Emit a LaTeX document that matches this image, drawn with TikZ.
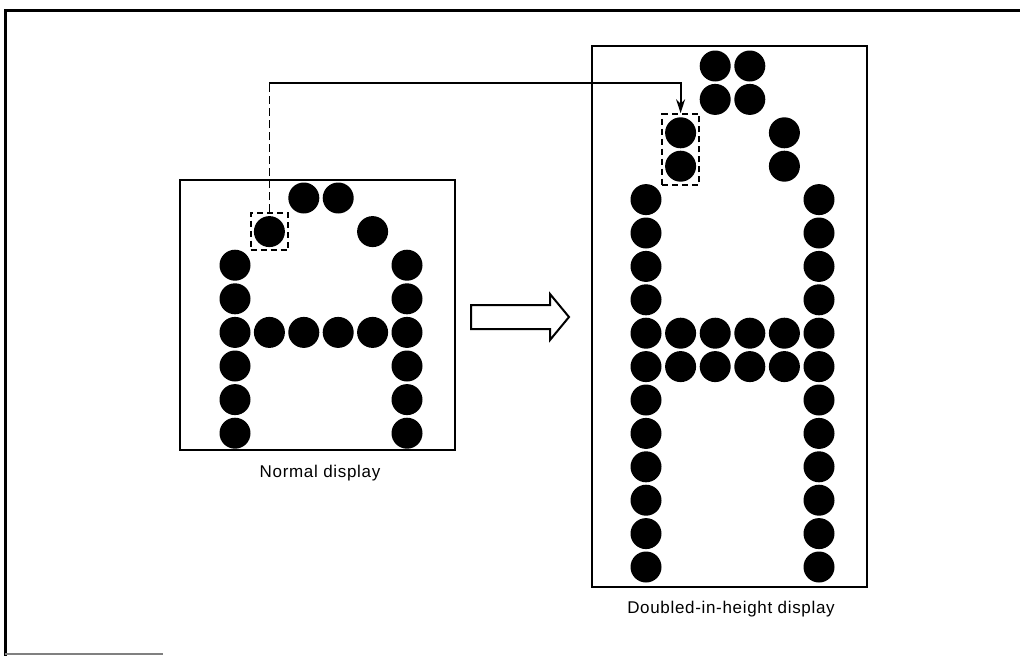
\documentclass[tikz,border=0pt]{standalone}
\usepackage{fontspec}
\setmainfont{Liberation Sans}
\usetikzlibrary{fit,arrows.meta}

% the letter A on the 6 x 8 dot grid (row/column)
\newcommand{\glyphA}{0/2,0/3,1/1,1/4,2/0,2/5,3/0,3/5,4/0,4/1,4/2,4/3,4/4,4/5,5/0,5/5,6/0,6/5,7/0,7/5}

\tikzset{
  dot/.style={circle, fill=black, inner sep=0pt, minimum size=31pt},
  panel/.style={draw, line width=2pt},
  selbox/.style={draw, line width=1.8pt, dash pattern=on 6pt off 4pt, inner sep=3pt},
  caption/.style={font=\fontsize{17}{20}\selectfont\addfontfeature{LetterSpace=4}, anchor=base}
}

\begin{document}
\begin{tikzpicture}[x=1pt, y=-1pt]
\useasboundingbox (0,0) rectangle (1020,656);

% outer frame
\draw[line width=3pt] (1020,10) -- (5,10) -- (5,656);
\draw[gray, line width=2pt] (5,654) -- (163,654);

% normal display
\draw[panel] (180,180) rectangle (455,450);
\foreach \row/\col in \glyphA
  \node[dot] (n-\row-\col) at ({235+34.4*\col}, {198+33.6*\row}) {};
\node[caption] (ncap) at (320,477) {Normal display};

% doubled-in-height display
\draw[panel] (592,46) rectangle (867,587);
\foreach \row/\col in \glyphA {
  \pgfmathtruncatemacro{\ra}{2*\row}
  \pgfmathtruncatemacro{\rb}{2*\row+1}
  \node[dot] (d-\ra-\col) at ({646+34.6*\col}, {66+33.4*\ra}) {};
  \node[dot] (d-\rb-\col) at ({646+34.6*\col}, {66+33.4*\rb}) {};
}
\node[caption] (dcap) at (731,613) {Doubled-in-height display};

% hollow arrow between the panels
\draw[line width=2pt] (471,305) -- (550,305) -- (550,294) -- (569,317)
  -- (550,340) -- (550,329) -- (471,329) -- cycle;

% one dot and its doubled copy
\node[selbox, fit=(n-1-1)] (lsel) {};
\node[selbox, fit=(d-2-1)(d-3-1)] (rsel) {};
\coordinate (route) at (0,83);
\draw[line width=1.8pt, dash pattern=on 8pt off 4pt] (lsel.north) -- (lsel.north |- route);
\draw[line width=1.8pt, -{Stealth[length=14pt,width=9pt]}] (lsel.north |- route) -| (rsel.north);

\end{tikzpicture}
\end{document}
